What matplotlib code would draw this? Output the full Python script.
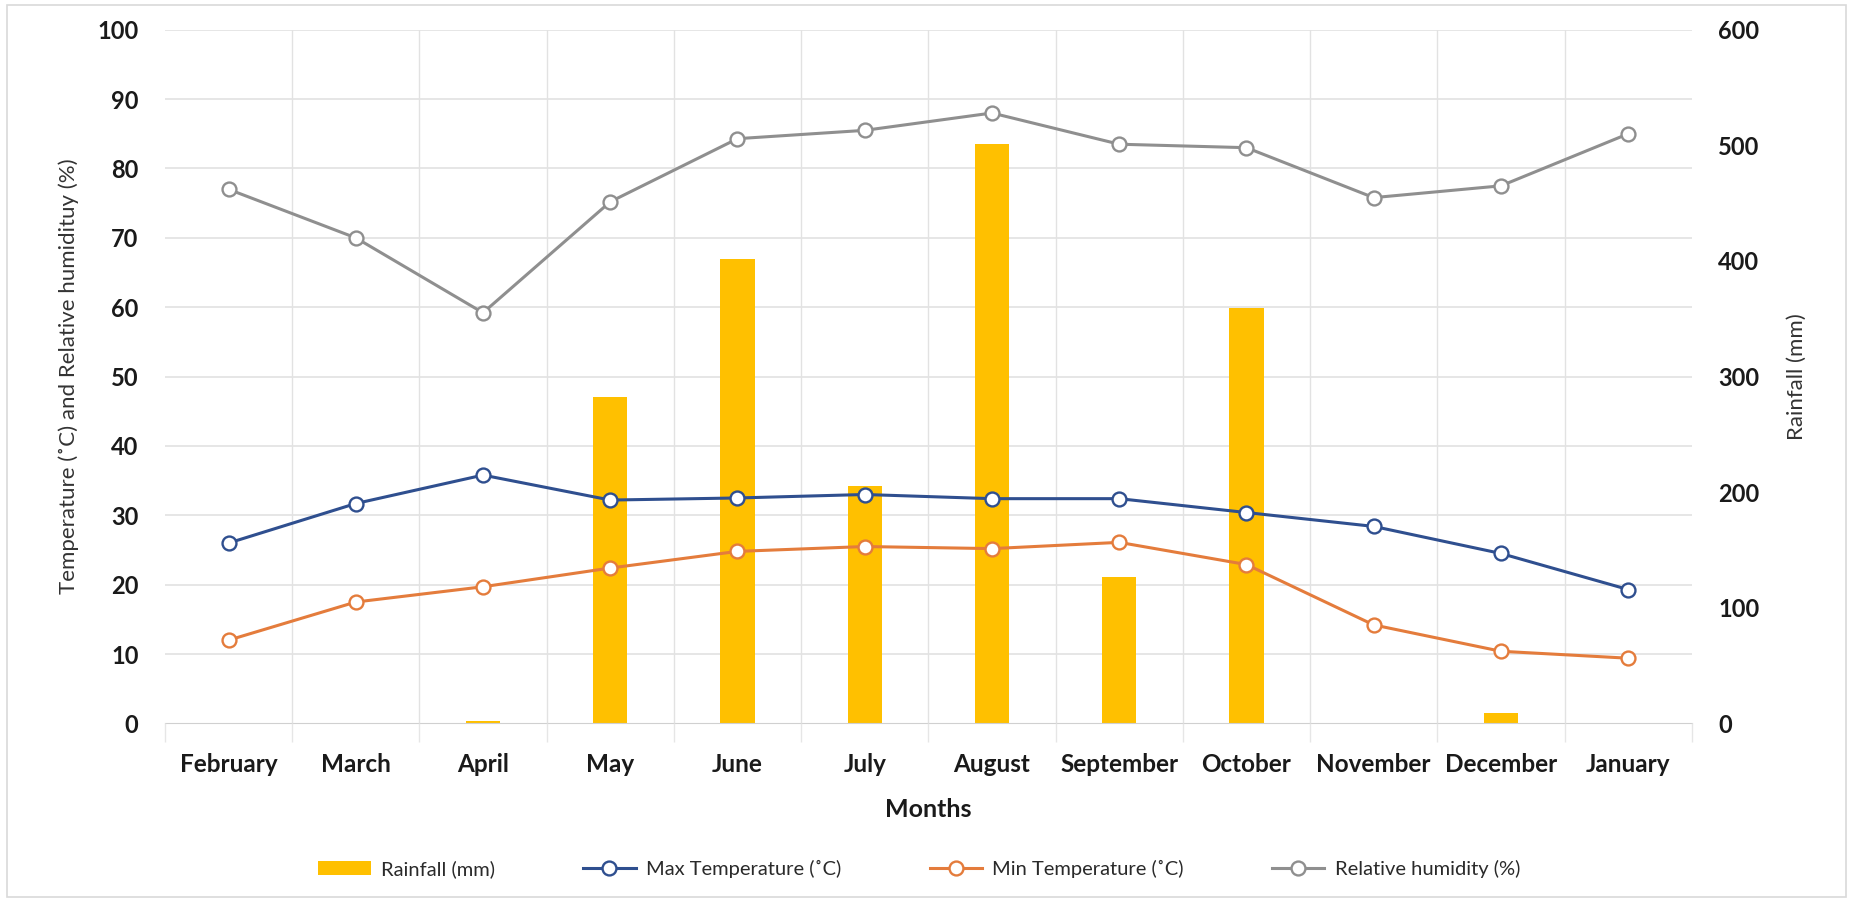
import matplotlib
matplotlib.use("Agg")
import matplotlib.pyplot as plt
import numpy as np
from matplotlib.patches import Rectangle
from matplotlib.lines import Line2D
from matplotlib.patches import Patch

months = ["February", "March", "April", "May", "June", "July", "August",
          "September", "October", "November", "December", "January"]
rainfall = [0, 0, 2, 282, 402, 205, 501, 127, 359, 0, 9, 0]
max_temp = [26.0, 31.7, 35.8, 32.2, 32.5, 33.0, 32.4, 32.4, 30.4, 28.4, 24.5, 19.3]
min_temp = [12.0, 17.5, 19.7, 22.4, 24.8, 25.5, 25.2, 26.1, 22.9, 14.2, 10.4, 9.4]
humidity = [77.0, 70.0, 59.2, 75.2, 84.3, 85.5, 88.0, 83.5, 83.0, 75.8, 77.5, 85.0]
left_ticks = list(range(0, 101, 10))
right_ticks = list(range(0, 601, 100))

plt.rcParams['font.family'] = ['Lato', 'DejaVu Sans']

fig = plt.figure(figsize=(18.53, 9.02), dpi=100)
fig.patches.append(Rectangle((0.004, 0.006), 0.992, 0.988, transform=fig.transFigure,
                             fill=False, edgecolor='#d9d9d9', linewidth=1.2))

ax = fig.add_axes([0.089, 0.198, 0.824, 0.769])
ax2 = ax.twinx()

x = np.arange(len(months))

ax2.set_facecolor('#f2f2f2')
ax.patch.set_visible(False)
ax.set_zorder(ax2.get_zorder() + 1)

ax2.set_ylim(0, 600)
ax.set_ylim(0, 100)
ax.set_xlim(-0.5, len(months) - 0.5)

for v in left_ticks[1:]:
    ax2.axhline(v * 6, color='#e2e2e2', linewidth=1.2, zorder=0)
for b in np.arange(0.5, len(months) - 0.5, 1):
    ax2.axvline(b, color='#e2e2e2', linewidth=1.0, zorder=0)

ax2.bar(x, rainfall, width=0.27, color='#FFC000', zorder=2)

style = dict(linewidth=2.2, marker='o', markersize=10, markerfacecolor='white',
             markeredgewidth=1.7, zorder=3)
ax.plot(x, max_temp, color='#2F4F8F', markeredgecolor='#2F4F8F', **style)
ax.plot(x, min_temp, color='#E47C3C', markeredgecolor='#E47C3C', **style)
ax.plot(x, humidity, color='#8F8F8F', markeredgecolor='#8F8F8F', **style)

tickfont = dict(fontweight='bold', color='#1a1a1a')
ax.set_yticks(left_ticks, labels=[str(v) for v in left_ticks], fontsize=17, **tickfont)
ax2.set_yticks(right_ticks, labels=[str(v) for v in right_ticks], fontsize=17, **tickfont)
ax.set_xticks(x, labels=months, fontsize=17.5, **tickfont)
ax.set_xticks(np.arange(-0.5, len(months), 1), minor=True)

for a in (ax, ax2):
    for s in a.spines.values():
        s.set_visible(False)
ax2.spines['bottom'].set_visible(True)
ax2.spines['bottom'].set_color('#d0d0d0')

ax.tick_params(axis='y', length=0, pad=19)
ax2.tick_params(axis='y', length=0, pad=19)
ax.tick_params(axis='x', which='major', length=0, pad=21)
ax.tick_params(axis='x', which='minor', length=14, color='#e6e6e6', width=1)

ax.set_ylabel("Temperature (˚C) and Relative humidituy (%)", fontsize=16,
              color='#333333')
ax.yaxis.set_label_coords(-0.056, 0.5)
ax2.set_ylabel("Rainfall (mm)", fontsize=16, color='#333333')
ax2.yaxis.set_label_coords(1.062, 0.5)
ax.set_xlabel("Months", fontsize=18, fontweight='bold', color='#1a1a1a', labelpad=16)

handles = [
    Patch(facecolor='#FFC000', edgecolor='none', label='Rainfall (mm)'),
    Line2D([], [], color='#2F4F8F', linewidth=2.2, marker='o', markersize=10,
           markerfacecolor='white', markeredgewidth=1.7, label='Max Temperature (˚C)'),
    Line2D([], [], color='#E47C3C', linewidth=2.2, marker='o', markersize=10,
           markerfacecolor='white', markeredgewidth=1.7, label='Min Temperature (˚C)'),
    Line2D([], [], color='#8F8F8F', linewidth=2.2, marker='o', markersize=10,
           markerfacecolor='white', markeredgewidth=1.7, label='Relative humidity (%)'),
]
leg = fig.legend(handles=handles, loc='center', bbox_to_anchor=(0.496, 0.037), ncol=4,
                 frameon=False, fontsize=14.5, columnspacing=4.4, handlelength=2.6,
                 handletextpad=0.5)
for t in leg.get_texts():
    t.set_color('#2a2a2a')

fig.savefig('out.png', dpi=100)
